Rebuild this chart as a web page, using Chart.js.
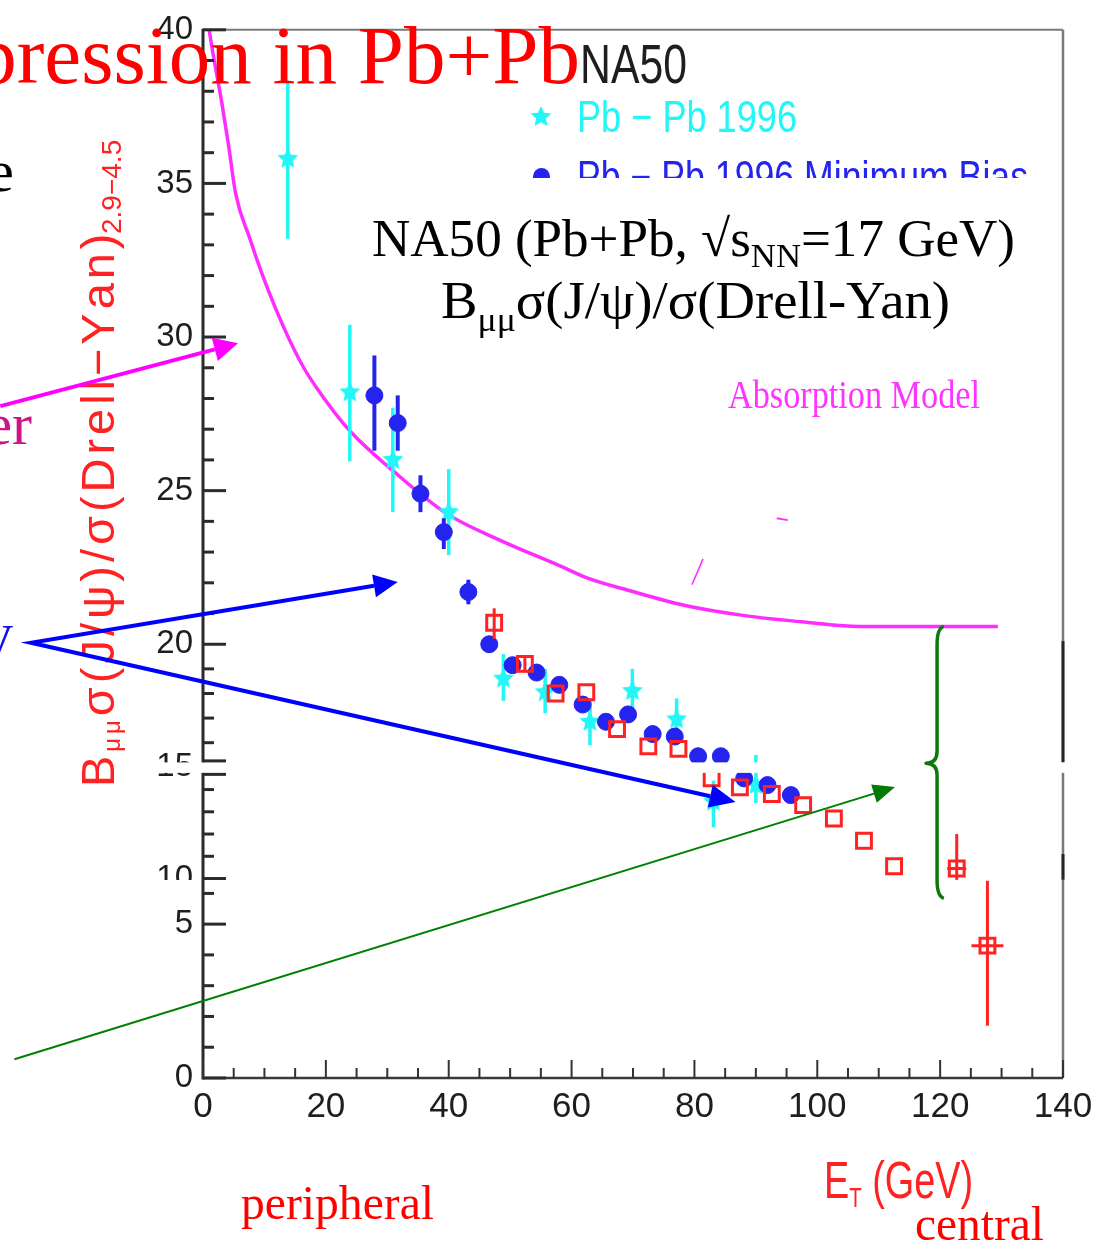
<!DOCTYPE html>
<html>
<head>
<meta charset="utf-8">
<title>NA50 J/psi suppression in Pb+Pb</title>
<script src="https://cdn.jsdelivr.net/npm/chart.js@4.4.1/dist/chart.umd.min.js"></script>
<style>
  html, body { margin: 0; padding: 0; background: #ffffff; }
  #wrap { width: 1108px; height: 1245px; position: relative; }
  canvas { display: block; }
</style>
</head>
<body>
<div id="wrap"><canvas id="chart" width="1108" height="1245"></canvas></div>
<script>
// ---------------------------------------------------------------
// Data: E_T (GeV) vs B_mumu sigma(J/psi) / sigma(Drell-Yan)
// ---------------------------------------------------------------

// Pb-Pb 1996 (cyan stars)
const pb96Et  = [13.8, 23.9, 30.9, 40.0, 48.9, 55.7, 63.0, 69.9, 77.1, 83.1, 90.0];
const pb96Val = [35.8, 28.2, 26.0, 24.3, 18.6, 18.05, 16.85, 18.1, 16.95, 13.45, 14.2];
const pb96Lo  = [33.2, 25.95, 24.3, 22.9, 17.7, 17.2, 15.9, 17.15, 16.1, 12.3, 13.4];
const pb96Hi  = [38.3, 30.4, 27.7, 25.7, 19.6, 19.0, 17.8, 19.0, 17.8, 14.4, 15.5];

// Pb-Pb 1996 minimum bias (blue circles)
const mbEt  = [27.9, 31.7, 35.4, 39.2, 43.2, 46.6, 50.4, 54.3, 58.0, 61.8, 65.6, 69.2, 73.2, 76.8, 80.6, 84.3, 88.1, 91.9, 95.7];
const mbVal = [28.1, 27.2, 24.9, 23.65, 21.7, 20.0, 19.15, 18.85, 18.35, 17.55, 16.85, 17.15, 16.35, 16.25, 15.45, 15.45, 14.5, 14.2, 13.75];
const mbLo  = [26.3, 26.3, 24.3, 23.1, 21.3, 19.8, null, null, null, null, null, null, null, null, null, null, null, null, null];
const mbHi  = [29.4, 28.1, 25.5, 24.1, 22.1, 20.25, null, null, null, null, null, null, null, null, null, null, null, null, null];

// Pb-Pb later runs (red open squares)
const pb98Et    = [47.4, 52.4, 57.4, 62.4, 67.4, 72.5, 77.4, 82.8, 87.4, 92.6, 97.7, 102.7, 107.6, 112.5, 122.7, 127.7];
const pb98Val   = [20.7, 19.2, 18.0, 18.05, 16.55, 15.85, 15.75, 14.5, 14.1, 13.8, 13.3, 12.7, 11.7, 10.55, 10.45, 4.3];
const pb98Lo    = [20.17, 18.85, null, null, null, null, null, null, null, null, null, null, null, null, 9.65, 1.7];
const pb98Hi    = [21.17, 19.55, null, null, null, null, null, null, null, null, null, null, null, null, 12.0, 9.4];
const pb98EtErr = [0, 0, 0, 0, 0, 0, 0, 0, 0, 0, 0, 0, 0, 0, 1.55, 2.6];

// Absorption model curve
const absEt  = [1.0, 1.6, 3.1, 4.2, 5.3, 7.65, 9.9, 13.2, 16.4, 19.9, 22.8, 25.1, 30.9, 39.6, 48.3, 58.1, 62.5, 69.5, 78.5, 87.9, 98.5, 106.8, 129.4];
const absVal = [40.0, 39.26, 37.58, 36.19, 34.68, 33.19, 31.9, 30.29, 29.0, 27.95, 27.2, 26.7, 25.65, 24.26, 23.39, 22.55, 22.16, 21.74, 21.26, 20.94, 20.71, 20.58, 20.58];

// Axis ticks
const xTickLabels = [0, 20, 40, 60, 80, 100, 120, 140];
const yTickLabels = [0, 5, 10, 15, 20, 25, 30, 35, 40];
const yTickValues = [0, 1, 2, 3, 4, 5, 6, 10, 11, 12, 13, 14, 15, 16, 17, 18, 19, 20,
                     21, 22, 23, 24, 25, 26, 27, 28, 29, 30, 31, 32, 33, 34, 35, 36, 37, 38, 39, 40];

// Annotation anchors (E_T, ratio)
const absArrowEt   = [-33.0, 5.7];
const absArrowVal  = [27.75, 29.8];
const blueArrowEt  = [31.7, -28.0, 86.7];   // tip, common start, tip
const blueArrowVal = [22.03, 20.05, 13.44];
const greenArrowEt  = [-30.7, 112.65];
const greenArrowVal = [0.61, 14.11];
const braceEt  = [117.7, 119.5, 120.6];     // cusp, spine, ends
const braceVal = [20.58, 15.17, 5.84];      // top, middle, bottom
const absPointerEt  = [79.6, 81.4, 93.4, 95.2];
const absPointerVal = [21.94, 22.78, 24.10, 24.04];

// ---------------------------------------------------------------
// Segmented vertical scale: the ratio axis is spliced, so each
// value range has its own extent along the axis.
// ---------------------------------------------------------------
const Y_BREAK_VALUES = [0, 5, 6, 10, 15, 20, 40];
const Y_BREAK_FRACS  = [0, 0.1468, 0.1761, 0.1903, 0.2964, 0.4138, 1];
const Y_GAP = [14.75, 15.2];      // blank strip across the splice
const Y_LABEL_CUT = [6.4, 9.6];   // blank strip over the "10" label

class SegmentedScale extends Chart.LinearScale {
  valueToFraction(v) {
    const V = Y_BREAK_VALUES, F = Y_BREAK_FRACS;
    let i = 1;
    while (i < V.length - 1 && v > V[i]) i++;
    return F[i - 1] + (v - V[i - 1]) * (F[i] - F[i - 1]) / (V[i] - V[i - 1]);
  }
  fractionToValue(f) {
    const V = Y_BREAK_VALUES, F = Y_BREAK_FRACS;
    let i = 1;
    while (i < F.length - 1 && f > F[i]) i++;
    return V[i - 1] + (f - F[i - 1]) * (V[i] - V[i - 1]) / (F[i] - F[i - 1]);
  }
  getPixelForValue(value) {
    if (value === null || value === undefined || isNaN(value)) return NaN;
    return this.getPixelForDecimal(this.valueToFraction(value));
  }
  getValueForPixel(pixel) {
    return this.fractionToValue(this.getDecimalForPixel(pixel));
  }
}
SegmentedScale.id = 'segmented';
SegmentedScale.defaults = Chart.LinearScale.defaults;
Chart.register(SegmentedScale);

// ---------------------------------------------------------------
// Styling helpers
// ---------------------------------------------------------------
const SERIF = '"Liberation Serif", "Times New Roman", serif';
const SANS  = '"Liberation Sans", Arial, Helvetica, sans-serif';
const CYAN = '#22f6f6';
const BLUE = '#2424ee';
const RED  = '#ff2222';
const MAGENTA = '#ff2cff';

function makeStar(r, color) {
  const s = Math.ceil(r * 2 + 2);
  const c = document.createElement('canvas');
  c.width = s; c.height = s;
  const g = c.getContext('2d');
  g.fillStyle = color;
  g.beginPath();
  for (let i = 0; i < 10; i++) {
    const rr = i % 2 ? r * 0.47 : r;
    const a = -Math.PI / 2 + i * Math.PI / 5;
    g.lineTo(s / 2 + rr * Math.cos(a), s / 2 + rr * Math.sin(a));
  }
  g.closePath();
  g.fill();
  return c;
}
const starMark = makeStar(11, CYAN);

function seg(ctx, x1, y1, x2, y2) {
  ctx.beginPath(); ctx.moveTo(x1, y1); ctx.lineTo(x2, y2); ctx.stroke();
}

// Draws a sequence of text runs (for sub/superscripts). With a target width,
// runs are either compressed horizontally ('scale') or letter-spaced ('spread').
function drawRuns(ctx, runs, o) {
  ctx.save();
  if (o.clip) { ctx.beginPath(); ctx.rect(o.clip[0], o.clip[1], o.clip[2], o.clip[3]); ctx.clip(); }
  ctx.fillStyle = o.color || '#000';
  ctx.textBaseline = 'alphabetic';
  ctx.textAlign = 'left';
  const fontOf = r => `${r.weight || 'normal'} ${r.size}px ${r.family}`;
  let natural = 0, nChars = 0;
  runs.forEach(r => { ctx.font = fontOf(r); natural += ctx.measureText(r.t).width; nChars += [...r.t].length; });
  let sx = 1, extra = 0;
  if (o.width) {
    if (o.mode === 'spread') extra = (o.width - natural) / Math.max(1, nChars - 1);
    else sx = o.width / natural;
  }
  ctx.translate(o.x, o.y);
  if (o.rotate) ctx.rotate(o.rotate);
  ctx.scale(sx, 1);
  let cx = 0;
  if (o.align === 'right') cx = -(o.mode === 'spread' ? o.width : natural);
  runs.forEach(r => {
    ctx.font = fontOf(r);
    if (o.mode === 'spread') {
      for (const ch of r.t) {
        ctx.fillText(ch, cx, r.dy || 0);
        cx += ctx.measureText(ch).width + extra;
      }
    } else {
      ctx.fillText(r.t, cx, r.dy || 0);
      cx += ctx.measureText(r.t).width;
    }
  });
  ctx.restore();
}

function arrowHead(ctx, bx, by, tx, ty, len, half, color) {
  const a = Math.atan2(ty - by, tx - bx);
  const hx = tx - len * Math.cos(a), hy = ty - len * Math.sin(a);
  ctx.fillStyle = color;
  ctx.beginPath();
  ctx.moveTo(tx, ty);
  ctx.lineTo(hx + half * Math.sin(a), hy - half * Math.cos(a));
  ctx.lineTo(hx - half * Math.sin(a), hy + half * Math.cos(a));
  ctx.closePath();
  ctx.fill();
  return [hx, hy];
}

// ---------------------------------------------------------------
// Plugin: error bars, frame, tick marks, annotations and text
// ---------------------------------------------------------------
const decorations = {
  id: 'decorations',
  beforeDatasetDraw(chart, args) {
    const ds = chart.data.datasets[args.index];
    if (!ds.errLow) return;
    const { ctx, scales: { x, y } } = chart;
    ctx.save();
    ctx.strokeStyle = ds.errColor;
    ctx.lineWidth = ds.errWidth;
    ds.data.forEach((p, i) => {
      const px = x.getPixelForValue(p.x);
      const lo = ds.errLow[i], hi = ds.errHigh[i];
      if (lo !== null && hi !== null) seg(ctx, px, y.getPixelForValue(lo), px, y.getPixelForValue(hi));
      const ex = ds.errX ? ds.errX[i] : 0;
      if (ex) {
        const py = y.getPixelForValue(p.y);
        seg(ctx, x.getPixelForValue(p.x - ex), py, x.getPixelForValue(p.x + ex), py);
      }
    });
    ctx.restore();
  },
  afterDatasetsDraw(chart) {
    const { ctx, chartArea: ca, scales: { x, y } } = chart;
    const gapTop = y.getPixelForValue(Y_GAP[1]);
    const gapBot = y.getPixelForValue(Y_GAP[0]);
    ctx.save();
    ctx.lineCap = 'butt';
    // frame
    ctx.strokeStyle = '#7a7a7a'; ctx.lineWidth = 2;
    seg(ctx, ca.left, ca.top, ca.right, ca.top);
    ctx.lineWidth = 2.5;
    seg(ctx, ca.right, ca.top, ca.right, ca.bottom);
    ctx.strokeStyle = '#262626'; ctx.lineWidth = 3;
    seg(ctx, ca.right, y.getPixelForValue(20.1), ca.right, gapTop);
    seg(ctx, ca.right, y.getPixelForValue(11.1), ca.right, y.getPixelForValue(9.7));
    ctx.strokeStyle = '#2b2b2b'; ctx.lineWidth = 3;
    seg(ctx, ca.left, ca.top - 1, ca.left, ca.bottom + 1.5);
    ctx.strokeStyle = '#3a3a3a'; ctx.lineWidth = 2.5;
    seg(ctx, ca.left, ca.bottom, ca.right, ca.bottom);
    // tick marks, pointing into the plot
    ctx.strokeStyle = '#2b2b2b'; ctx.lineWidth = 3;
    const split = [];
    y.ticks.forEach(t => {
      const py = y.getPixelForValue(t.value);
      const len = yTickLabels.includes(t.value) ? 23 : 11;
      if (py > gapTop && py < gapBot) split.push(len);
      else seg(ctx, ca.left, py, ca.left + len, py);
    });
    ctx.strokeStyle = '#333333'; ctx.lineWidth = 2;
    x.ticks.forEach(t => {
      const px = x.getPixelForValue(t.value);
      const len = xTickLabels.includes(t.value) ? 18 : 10;
      seg(ctx, px, ca.bottom, px, ca.bottom - len);
    });
    // blank strips across the splices
    ctx.fillStyle = '#ffffff';
    ctx.fillRect(140, gapTop, ca.right + 4 - 140, gapBot - gapTop);
    const cutTop = y.getPixelForValue(Y_LABEL_CUT[1]);
    const cutBot = y.getPixelForValue(Y_LABEL_CUT[0]);
    ctx.fillRect(140, cutTop, ca.left - 2 - 140, cutBot - cutTop);
    // ticks that fall in the splice reappear at both of its edges
    ctx.strokeStyle = '#2b2b2b'; ctx.lineWidth = 3;
    split.forEach(len => {
      seg(ctx, ca.left, gapTop - 1.5, ca.left + len, gapTop - 1.5);
      seg(ctx, ca.left, gapBot + 1.5, ca.left + len, gapBot + 1.5);
    });
    ctx.restore();
  },
  afterDraw(chart) {
    const { ctx, scales: { x, y } } = chart;
    const P = (et, v) => [x.getPixelForValue(et), y.getPixelForValue(v)];
    ctx.save();

    // in-plot legend
    drawRuns(ctx, [{ t: 'NA50', size: 55, family: SANS }], { x: 580, y: 83, width: 107, color: '#1e1e1e' });
    ctx.drawImage(starMark, 541 - starMark.width / 2, 117 - starMark.height / 2);
    drawRuns(ctx, [{ t: 'Pb − Pb 1996', size: 44, family: SANS }], { x: 577, y: 132, width: 220, color: CYAN });
    ctx.save();
    ctx.beginPath(); ctx.rect(0, 140, 1108, 38); ctx.clip();
    ctx.fillStyle = BLUE;
    ctx.beginPath(); ctx.arc(541.5, 176.5, 8.5, 0, Math.PI * 2); ctx.fill();
    ctx.restore();
    drawRuns(ctx, [{ t: 'Pb − Pb 1996 Minimum Bias', size: 44, family: SANS }],
      { x: 577, y: 192, width: 451, color: BLUE, clip: [0, 140, 1108, 38] });

    // model label and its pointer
    drawRuns(ctx, [{ t: 'Absorption Model', size: 40, family: SERIF }], { x: 728, y: 408, width: 252, color: '#ff33ff' });
    ctx.strokeStyle = MAGENTA; ctx.lineWidth = 1.5;
    let a = P(absPointerEt[0], absPointerVal[0]), b = P(absPointerEt[1], absPointerVal[1]);
    seg(ctx, a[0], a[1], b[0], b[1]);
    ctx.lineWidth = 2;
    a = P(absPointerEt[2], absPointerVal[2]); b = P(absPointerEt[3], absPointerVal[3]);
    seg(ctx, a[0], a[1], b[0], b[1]);

    // reaction / observable caption
    drawRuns(ctx, [
      { t: 'NA50 (Pb+Pb, √s', size: 52, family: SERIF },
      { t: 'NN', size: 34, family: SERIF, dy: 11 },
      { t: '=17 GeV)', size: 52, family: SERIF }
    ], { x: 372, y: 256, width: 643, color: '#000000' });
    drawRuns(ctx, [
      { t: 'B', size: 52, family: SERIF },
      { t: 'μμ', size: 34, family: SERIF, dy: 13 },
      { t: 'σ(J/ψ)/σ(Drell-Yan)', size: 52, family: SERIF }
    ], { x: 441, y: 318, width: 509, color: '#000000' });

    // axis titles
    drawRuns(ctx, [
      { t: 'B', size: 47, family: SANS },
      { t: 'μμ', size: 24, family: SANS, dy: 6 },
      { t: 'σ(J/ψ)/σ(Drell−Yan)', size: 47, family: SANS }
    ], { x: 114, y: 787, rotate: -Math.PI / 2, width: 550, mode: 'spread', color: RED });
    drawRuns(ctx, [{ t: '2.9−4.5', size: 28, family: SANS, dy: 7 }],
      { x: 114, y: 787 - 553, rotate: -Math.PI / 2, color: RED });
    drawRuns(ctx, [
      { t: 'E', size: 52, family: SANS },
      { t: 'T', size: 28, family: SANS, dy: 9 },
      { t: ' (GeV)', size: 52, family: SANS }
    ], { x: 824, y: 1198, width: 149, color: RED });

    drawRuns(ctx, [{ t: 'peripheral', size: 48, family: SERIF }], { x: 241, y: 1219, width: 193, color: '#ff0000' });
    drawRuns(ctx, [{ t: 'central', size: 48, family: SERIF }], { x: 915, y: 1240, width: 129, color: '#ff0000' });

    // slide text around the plot
    drawRuns(ctx, [{ t: 'J/ψ Suppression in Pb+Pb', size: 83, family: SERIF }], { x: 580, y: 83, align: 'right', color: '#ff0000' });
    drawRuns(ctx, [{ t: 'e', size: 60, family: SERIF }], { x: 14, y: 191, align: 'right', color: '#000000' });
    drawRuns(ctx, [{ t: 'er', size: 60, family: SERIF }], { x: 32, y: 444, align: 'right', color: '#cc1488' });
    drawRuns(ctx, [{ t: 'y', size: 58, family: SERIF }], { x: 13, y: 652, align: 'right', color: '#1010ee' });

    // arrows
    ctx.lineCap = 'butt'; ctx.lineJoin = 'miter';
    // to the absorption curve
    a = P(absArrowEt[0], absArrowVal[0]); b = P(absArrowEt[1], absArrowVal[1]);
    let h = arrowHead(ctx, a[0], a[1], b[0], b[1], 24, 12, '#ff00ff');
    ctx.strokeStyle = '#ff00ff'; ctx.lineWidth = 4;
    seg(ctx, a[0], a[1], h[0], h[1]);
    // to the minimum-bias and the high-E_T points
    const t1 = P(blueArrowEt[0], blueArrowVal[0]);
    const v0 = P(blueArrowEt[1], blueArrowVal[1]);
    const t2 = P(blueArrowEt[2], blueArrowVal[2]);
    const h1 = arrowHead(ctx, v0[0], v0[1], t1[0], t1[1], 24, 11.5, '#0000ff');
    const h2 = arrowHead(ctx, v0[0], v0[1], t2[0], t2[1], 26, 11.5, '#0000ff');
    ctx.strokeStyle = '#0000ff'; ctx.lineWidth = 4;
    ctx.beginPath(); ctx.moveTo(h1[0], h1[1]); ctx.lineTo(v0[0], v0[1]); ctx.lineTo(h2[0], h2[1]); ctx.stroke();
    // to the suppression gap
    a = P(greenArrowEt[0], greenArrowVal[0]); b = P(greenArrowEt[1], greenArrowVal[1]);
    h = arrowHead(ctx, a[0], a[1], b[0], b[1], 22, 9.5, '#007a00');
    ctx.strokeStyle = '#008000'; ctx.lineWidth = 2;
    seg(ctx, a[0], a[1], h[0], h[1]);

    // brace between model and data
    const xc = x.getPixelForValue(braceEt[0]);
    const xs = x.getPixelForValue(braceEt[1]);
    const xe = x.getPixelForValue(braceEt[2]);
    const yT = y.getPixelForValue(braceVal[0]);
    const yM = y.getPixelForValue(braceVal[1]);
    const yB = y.getPixelForValue(braceVal[2]);
    ctx.strokeStyle = '#0b7a0b'; ctx.lineWidth = 3.5; ctx.lineJoin = 'round';
    ctx.beginPath();
    ctx.moveTo(xe, yT);
    ctx.quadraticCurveTo(xs, yT + 2, xs, yT + 18);
    ctx.lineTo(xs, yM - 12);
    ctx.quadraticCurveTo(xs, yM, xc, yM);
    ctx.quadraticCurveTo(xs, yM, xs, yM + 12);
    ctx.lineTo(xs, yB - 18);
    ctx.quadraticCurveTo(xs, yB - 2, xe, yB);
    ctx.stroke();

    ctx.restore();
  }
};

// ---------------------------------------------------------------
// Chart
// ---------------------------------------------------------------
const toPoints = (xs, ys) => xs.map((v, i) => ({ x: v, y: ys[i] }));

new Chart(document.getElementById('chart'), {
  type: 'scatter',
  data: {
    datasets: [
      {
        label: 'Pb-Pb (open squares)',
        data: toPoints(pb98Et, pb98Val),
        pointStyle: 'rect', pointRadius: 10.5, borderWidth: 3,
        borderColor: RED, backgroundColor: 'rgba(0,0,0,0)',
        errLow: pb98Lo, errHigh: pb98Hi, errX: pb98EtErr, errColor: RED, errWidth: 3,
        order: 0
      },
      {
        label: 'Pb - Pb 1996 Minimum Bias',
        data: toPoints(mbEt, mbVal),
        pointStyle: 'circle', pointRadius: 8.5, borderWidth: 1,
        backgroundColor: BLUE, borderColor: BLUE,
        errLow: mbLo, errHigh: mbHi, errColor: BLUE, errWidth: 4,
        order: 1
      },
      {
        label: 'Pb - Pb 1996',
        data: toPoints(pb96Et, pb96Val),
        pointStyle: starMark, pointRadius: 10,
        backgroundColor: CYAN, borderColor: CYAN,
        errLow: pb96Lo, errHigh: pb96Hi, errColor: CYAN, errWidth: 3.5,
        order: 2
      },
      {
        label: 'Absorption Model',
        data: toPoints(absEt, absVal),
        showLine: true, pointRadius: 0, borderWidth: 3.5,
        borderColor: MAGENTA, backgroundColor: MAGENTA,
        cubicInterpolationMode: 'monotone',
        order: 3
      }
    ]
  },
  options: {
    responsive: false,
    animation: false,
    devicePixelRatio: 1,
    events: [],
    layout: { padding: { top: 22, right: 45, bottom: 0, left: 0 } },
    plugins: { legend: { display: false }, tooltip: { enabled: false } },
    scales: {
      x: {
        type: 'linear', min: 0, max: 140,
        afterFit: s => { s.height = 167; },
        grid: { display: false, drawTicks: false },
        border: { display: false },
        ticks: {
          stepSize: 5, autoSkip: false, maxRotation: 0, padding: 8,
          color: '#1e1e1e', font: { family: SANS, size: 35 },
          callback: v => (xTickLabels.includes(v) ? String(v) : '')
        }
      },
      y: {
        type: 'segmented', min: 0, max: 40,
        afterFit: s => { s.width = 203; },
        afterBuildTicks: s => { s.ticks = yTickValues.map(v => ({ value: v })); },
        grid: { display: false, drawTicks: false },
        border: { display: false },
        ticks: {
          autoSkip: false, padding: 10,
          color: '#1e1e1e', font: { family: SANS, size: 33 },
          callback: v => (yTickLabels.includes(v) ? String(v) : '')
        }
      }
    }
  },
  plugins: [decorations]
});
</script>
</body>
</html>
